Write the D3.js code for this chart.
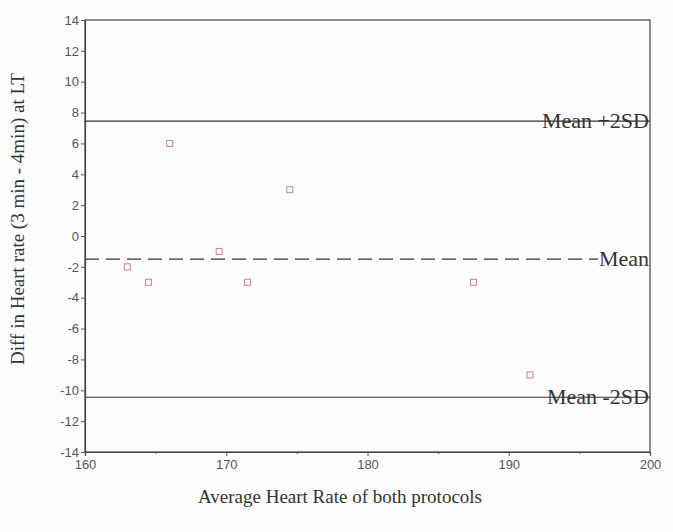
<!DOCTYPE html>
<html>
<head>
<meta charset="utf-8">
<script src="https://cdn.jsdelivr.net/npm/d3@7"></script>
<style>
  body { margin: 0; background: #fdfdfd; }
  svg { display: block; }
</style>
</head>
<body>
<script>
// Bland-Altman data
const avgHR = [163, 164.5, 166, 169.5, 171.5, 174.5, 187.5, 191.5];
const diffHR = [-2, -3, 6, -1, -3, 3, -3, -9];
const refLines = [
  {label: "Mean +2SD", value: 7.45, dashed: false},
  {label: "Mean", value: -1.5, dashed: true},
  {label: "Mean -2SD", value: -10.45, dashed: false}
];
const xTicks = [160, 170, 180, 190, 200];
const yTicks = [14, 12, 10, 8, 6, 4, 2, 0, -2, -4, -6, -8, -10, -12, -14];

const width = 673, height = 532;
const margin = {top: 20, right: 23, bottom: 80, left: 85};

const svg = d3.select("body").append("svg").attr("width", width).attr("height", height);

const x = d3.scaleLinear().domain([160, 200]).range([margin.left, width - margin.right]);
const y = d3.scaleLinear().domain([-14, 14]).range([height - margin.bottom, margin.top]);

//frame
svg.append("rect")
  .attr("x", x(160)).attr("y", y(14))
  .attr("width", x(200) - x(160)).attr("height", y(-14) - y(14))
  .attr("fill", "none").attr("stroke", "#444").attr("stroke-width", 1.2);

//axes
svg.append("g")
  .attr("transform", "translate(0," + y(-14) + ")")
  .call(d3.axisBottom(x).tickValues(xTicks).tickSize(4).tickPadding(4));
svg.append("g")
  .attr("transform", "translate(0," + y(-14) + ")")
  .call(d3.axisBottom(x).tickValues([165, 175, 185, 195]).tickSize(2).tickFormat(""));
svg.append("g")
  .attr("transform", "translate(" + x(160) + ",0)")
  .call(d3.axisLeft(y).tickValues(yTicks).tickSize(4).tickPadding(2).tickFormat((d) => String(d)));

svg.selectAll(".domain").attr("stroke", "#444").attr("stroke-width", 1.2);
svg.selectAll(".tick line").attr("stroke", "#555");
svg.selectAll(".tick text")
  .attr("font-family", "Liberation Sans, Arial, sans-serif")
  .attr("font-size", 13).attr("fill", "#555");

//reference lines
const lineG = svg.append("g");
const labelG = svg.append("g");
refLines.forEach((r) => {
  const label = labelG.append("text")
    .attr("x", x(200) - 1).attr("y", y(r.value))
    .attr("dy", "0.33em")
    .attr("text-anchor", "end")
    .attr("font-family", "Liberation Serif, Times New Roman, serif")
    .attr("font-size", 22).attr("fill", "#333")
    .text(r.label);
  const lineEnd = r.dashed ? x(200) - label.node().getComputedTextLength() - 2 : x(200);
  lineG.append("line")
    .attr("x1", x(160)).attr("x2", lineEnd)
    .attr("y1", y(r.value)).attr("y2", y(r.value))
    .attr("stroke", "#333").attr("stroke-width", 1.2)
    .attr("stroke-dasharray", r.dashed ? "14,7" : null);
});

//points
svg.selectAll("rect.pt")
  .data(avgHR)
  .enter()
  .append("rect")
  .attr("class", "pt")
  .attr("x", (d) => x(d) - 3)
  .attr("y", (d, i) => y(diffHR[i]) - 3)
  .attr("width", 6).attr("height", 6)
  .attr("fill", "none").attr("stroke", "#cf8090").attr("stroke-width", 1);

//axis titles
svg.append("text")
  .attr("transform", "translate(24,219) rotate(-90)")
  .attr("text-anchor", "middle")
  .attr("font-family", "Liberation Serif, Times New Roman, serif")
  .attr("font-size", 19).attr("fill", "#333")
  .text("Diff in Heart rate (3 min - 4min) at LT");

svg.append("text")
  .attr("x", 340).attr("y", 503)
  .attr("text-anchor", "middle")
  .attr("font-family", "Liberation Serif, Times New Roman, serif")
  .attr("font-size", 19).attr("fill", "#333")
  .text("Average Heart Rate of both protocols");
</script>
</body>
</html>
